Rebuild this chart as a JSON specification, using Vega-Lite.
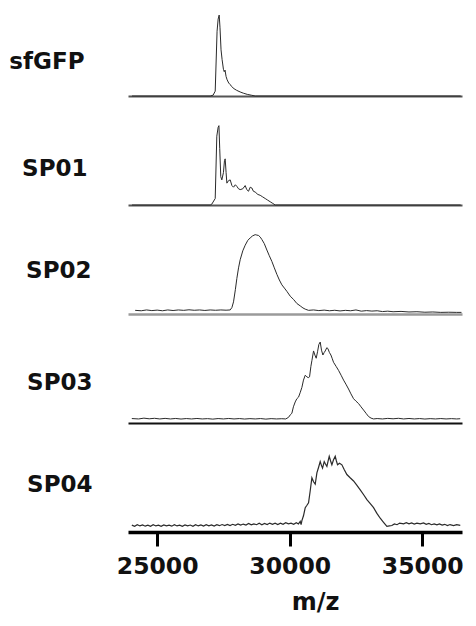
{
"$schema": "https://vega.github.io/schema/vega-lite/v6.json",
"padding": {"left": 8, "top": 11, "right": 12, "bottom": 5},
"bounds": "flush",
"spacing": 24,
"config": {"view": {"stroke": null}, "font": "DejaVu Sans", "line": {"color": "#2a2a2a", "strokeWidth": 1}},
"data": {"values": [
{"s":"sfGFP","mz":24050,"v":0},{"s":"sfGFP","mz":27000,"v":0},{"s":"sfGFP","mz":27110,"v":0.01},{"s":"sfGFP","mz":27190,"v":0.06},{"s":"sfGFP","mz":27260,"v":0.8},{"s":"sfGFP","mz":27300,"v":0.95},{"s":"sfGFP","mz":27340,"v":1.0},{"s":"sfGFP","mz":27370,"v":0.85},{"s":"sfGFP","mz":27410,"v":0.57},{"s":"sfGFP","mz":27450,"v":0.45},{"s":"sfGFP","mz":27500,"v":0.33},{"s":"sfGFP","mz":27530,"v":0.3},{"s":"sfGFP","mz":27560,"v":0.32},{"s":"sfGFP","mz":27600,"v":0.24},{"s":"sfGFP","mz":27640,"v":0.2},{"s":"sfGFP","mz":27700,"v":0.16},{"s":"sfGFP","mz":27760,"v":0.14},{"s":"sfGFP","mz":27800,"v":0.12},{"s":"sfGFP","mz":27900,"v":0.09},{"s":"sfGFP","mz":28000,"v":0.07},{"s":"sfGFP","mz":28130,"v":0.05},{"s":"sfGFP","mz":28250,"v":0.035},{"s":"sfGFP","mz":28400,"v":0.02},{"s":"sfGFP","mz":28550,"v":0.01},{"s":"sfGFP","mz":28700,"v":0},{"s":"sfGFP","mz":36450,"v":0},
{"s":"SP01","mz":24050,"v":0},{"s":"SP01","mz":27000,"v":0},{"s":"SP01","mz":27060,"v":0.01},{"s":"SP01","mz":27190,"v":0.08},{"s":"SP01","mz":27250,"v":0.85},{"s":"SP01","mz":27300,"v":0.96},{"s":"SP01","mz":27330,"v":0.98},{"s":"SP01","mz":27360,"v":0.7},{"s":"SP01","mz":27400,"v":0.35},{"s":"SP01","mz":27440,"v":0.31},{"s":"SP01","mz":27500,"v":0.4},{"s":"SP01","mz":27540,"v":0.55},{"s":"SP01","mz":27566,"v":0.57},{"s":"SP01","mz":27600,"v":0.4},{"s":"SP01","mz":27630,"v":0.27},{"s":"SP01","mz":27690,"v":0.3},{"s":"SP01","mz":27755,"v":0.31},{"s":"SP01","mz":27820,"v":0.24},{"s":"SP01","mz":27881,"v":0.22},{"s":"SP01","mz":27950,"v":0.25},{"s":"SP01","mz":28007,"v":0.23},{"s":"SP01","mz":28070,"v":0.2},{"s":"SP01","mz":28132,"v":0.19},{"s":"SP01","mz":28230,"v":0.2},{"s":"SP01","mz":28321,"v":0.24},{"s":"SP01","mz":28380,"v":0.19},{"s":"SP01","mz":28447,"v":0.17},{"s":"SP01","mz":28510,"v":0.22},{"s":"SP01","mz":28573,"v":0.21},{"s":"SP01","mz":28630,"v":0.17},{"s":"SP01","mz":28698,"v":0.16},{"s":"SP01","mz":28800,"v":0.13},{"s":"SP01","mz":28887,"v":0.12},{"s":"SP01","mz":28980,"v":0.1},{"s":"SP01","mz":29076,"v":0.08},{"s":"SP01","mz":29170,"v":0.06},{"s":"SP01","mz":29264,"v":0.04},{"s":"SP01","mz":29360,"v":0.02},{"s":"SP01","mz":29453,"v":0},{"s":"SP01","mz":36450,"v":0},
{"s":"SP02","mz":24170,"v":0.045},{"s":"SP02","mz":24400,"v":0.04},{"s":"SP02","mz":24600,"v":0.05},{"s":"SP02","mz":24800,"v":0.042},{"s":"SP02","mz":25000,"v":0.048},{"s":"SP02","mz":25200,"v":0.04},{"s":"SP02","mz":25400,"v":0.05},{"s":"SP02","mz":25600,"v":0.043},{"s":"SP02","mz":25800,"v":0.05},{"s":"SP02","mz":26000,"v":0.045},{"s":"SP02","mz":26200,"v":0.052},{"s":"SP02","mz":26400,"v":0.046},{"s":"SP02","mz":26600,"v":0.05},{"s":"SP02","mz":26800,"v":0.044},{"s":"SP02","mz":27000,"v":0.05},{"s":"SP02","mz":27200,"v":0.046},{"s":"SP02","mz":27400,"v":0.05},{"s":"SP02","mz":27600,"v":0.047},{"s":"SP02","mz":27755,"v":0.05},{"s":"SP02","mz":27820,"v":0.08},{"s":"SP02","mz":27881,"v":0.15},{"s":"SP02","mz":27950,"v":0.3},{"s":"SP02","mz":28007,"v":0.44},{"s":"SP02","mz":28070,"v":0.57},{"s":"SP02","mz":28132,"v":0.67},{"s":"SP02","mz":28230,"v":0.78},{"s":"SP02","mz":28321,"v":0.85},{"s":"SP02","mz":28420,"v":0.91},{"s":"SP02","mz":28510,"v":0.94},{"s":"SP02","mz":28600,"v":0.965},{"s":"SP02","mz":28698,"v":0.98},{"s":"SP02","mz":28760,"v":0.975},{"s":"SP02","mz":28824,"v":0.97},{"s":"SP02","mz":28890,"v":0.95},{"s":"SP02","mz":28950,"v":0.92},{"s":"SP02","mz":29040,"v":0.87},{"s":"SP02","mz":29139,"v":0.79},{"s":"SP02","mz":29230,"v":0.72},{"s":"SP02","mz":29327,"v":0.65},{"s":"SP02","mz":29420,"v":0.57},{"s":"SP02","mz":29516,"v":0.49},{"s":"SP02","mz":29610,"v":0.42},{"s":"SP02","mz":29705,"v":0.36},{"s":"SP02","mz":29800,"v":0.32},{"s":"SP02","mz":29893,"v":0.28},{"s":"SP02","mz":30020,"v":0.22},{"s":"SP02","mz":30145,"v":0.18},{"s":"SP02","mz":30270,"v":0.13},{"s":"SP02","mz":30397,"v":0.1},{"s":"SP02","mz":30500,"v":0.075},{"s":"SP02","mz":30586,"v":0.06},{"s":"SP02","mz":30711,"v":0.045},{"s":"SP02","mz":30900,"v":0.05},{"s":"SP02","mz":31100,"v":0.042},{"s":"SP02","mz":31300,"v":0.048},{"s":"SP02","mz":31500,"v":0.04},{"s":"SP02","mz":31700,"v":0.046},{"s":"SP02","mz":31900,"v":0.038},{"s":"SP02","mz":32100,"v":0.045},{"s":"SP02","mz":32300,"v":0.04},{"s":"SP02","mz":32500,"v":0.05},{"s":"SP02","mz":32700,"v":0.035},{"s":"SP02","mz":32900,"v":0.042},{"s":"SP02","mz":33100,"v":0.036},{"s":"SP02","mz":33300,"v":0.04},{"s":"SP02","mz":33500,"v":0.03},{"s":"SP02","mz":33700,"v":0.035},{"s":"SP02","mz":33900,"v":0.028},{"s":"SP02","mz":34200,"v":0.032},{"s":"SP02","mz":34500,"v":0.025},{"s":"SP02","mz":34800,"v":0.028},{"s":"SP02","mz":35100,"v":0.022},{"s":"SP02","mz":35400,"v":0.025},{"s":"SP02","mz":35700,"v":0.02},{"s":"SP02","mz":36000,"v":0.022},{"s":"SP02","mz":36300,"v":0.02},{"s":"SP02","mz":36480,"v":0.02},
{"s":"SP03","mz":24044,"v":0.055},{"s":"SP03","mz":24300,"v":0.05},{"s":"SP03","mz":24500,"v":0.06},{"s":"SP03","mz":24700,"v":0.052},{"s":"SP03","mz":24900,"v":0.058},{"s":"SP03","mz":25100,"v":0.05},{"s":"SP03","mz":25300,"v":0.057},{"s":"SP03","mz":25500,"v":0.05},{"s":"SP03","mz":25700,"v":0.056},{"s":"SP03","mz":25900,"v":0.049},{"s":"SP03","mz":26100,"v":0.055},{"s":"SP03","mz":26300,"v":0.05},{"s":"SP03","mz":26500,"v":0.056},{"s":"SP03","mz":26700,"v":0.05},{"s":"SP03","mz":26900,"v":0.054},{"s":"SP03","mz":27100,"v":0.048},{"s":"SP03","mz":27300,"v":0.055},{"s":"SP03","mz":27500,"v":0.05},{"s":"SP03","mz":27700,"v":0.056},{"s":"SP03","mz":27900,"v":0.05},{"s":"SP03","mz":28100,"v":0.055},{"s":"SP03","mz":28300,"v":0.049},{"s":"SP03","mz":28500,"v":0.054},{"s":"SP03","mz":28700,"v":0.05},{"s":"SP03","mz":28900,"v":0.055},{"s":"SP03","mz":29100,"v":0.048},{"s":"SP03","mz":29300,"v":0.054},{"s":"SP03","mz":29500,"v":0.05},{"s":"SP03","mz":29700,"v":0.053},{"s":"SP03","mz":29850,"v":0.05},{"s":"SP03","mz":29956,"v":0.07},{"s":"SP03","mz":30020,"v":0.1},{"s":"SP03","mz":30082,"v":0.12},{"s":"SP03","mz":30140,"v":0.2},{"s":"SP03","mz":30208,"v":0.26},{"s":"SP03","mz":30270,"v":0.3},{"s":"SP03","mz":30334,"v":0.32},{"s":"SP03","mz":30400,"v":0.38},{"s":"SP03","mz":30460,"v":0.44},{"s":"SP03","mz":30520,"v":0.53},{"s":"SP03","mz":30586,"v":0.59},{"s":"SP03","mz":30649,"v":0.57},{"s":"SP03","mz":30700,"v":0.56},{"s":"SP03","mz":30749,"v":0.57},{"s":"SP03","mz":30800,"v":0.7},{"s":"SP03","mz":30837,"v":0.77},{"s":"SP03","mz":30900,"v":0.89},{"s":"SP03","mz":30950,"v":0.84},{"s":"SP03","mz":31000,"v":0.8},{"s":"SP03","mz":31050,"v":0.88},{"s":"SP03","mz":31100,"v":0.97},{"s":"SP03","mz":31151,"v":1.0},{"s":"SP03","mz":31200,"v":0.9},{"s":"SP03","mz":31252,"v":0.84},{"s":"SP03","mz":31300,"v":0.87},{"s":"SP03","mz":31340,"v":0.89},{"s":"SP03","mz":31400,"v":0.93},{"s":"SP03","mz":31440,"v":0.92},{"s":"SP03","mz":31500,"v":0.87},{"s":"SP03","mz":31554,"v":0.84},{"s":"SP03","mz":31600,"v":0.8},{"s":"SP03","mz":31654,"v":0.75},{"s":"SP03","mz":31750,"v":0.7},{"s":"SP03","mz":31843,"v":0.65},{"s":"SP03","mz":31940,"v":0.59},{"s":"SP03","mz":32032,"v":0.53},{"s":"SP03","mz":32120,"v":0.48},{"s":"SP03","mz":32220,"v":0.42},{"s":"SP03","mz":32310,"v":0.36},{"s":"SP03","mz":32409,"v":0.3},{"s":"SP03","mz":32500,"v":0.27},{"s":"SP03","mz":32598,"v":0.24},{"s":"SP03","mz":32690,"v":0.2},{"s":"SP03","mz":32787,"v":0.16},{"s":"SP03","mz":32880,"v":0.12},{"s":"SP03","mz":32975,"v":0.08},{"s":"SP03","mz":33070,"v":0.06},{"s":"SP03","mz":33164,"v":0.05},{"s":"SP03","mz":33300,"v":0.055},{"s":"SP03","mz":33500,"v":0.05},{"s":"SP03","mz":33700,"v":0.057},{"s":"SP03","mz":33900,"v":0.052},{"s":"SP03","mz":34100,"v":0.058},{"s":"SP03","mz":34300,"v":0.05},{"s":"SP03","mz":34500,"v":0.056},{"s":"SP03","mz":34700,"v":0.05},{"s":"SP03","mz":34900,"v":0.055},{"s":"SP03","mz":35100,"v":0.049},{"s":"SP03","mz":35300,"v":0.054},{"s":"SP03","mz":35500,"v":0.05},{"s":"SP03","mz":35700,"v":0.055},{"s":"SP03","mz":35900,"v":0.05},{"s":"SP03","mz":36100,"v":0.054},{"s":"SP03","mz":36300,"v":0.05},{"s":"SP03","mz":36435,"v":0.053},
{"s":"SP04","mz":24044,"v":0.085},{"s":"SP04","mz":24150,"v":0.07},{"s":"SP04","mz":24250,"v":0.09},{"s":"SP04","mz":24350,"v":0.075},{"s":"SP04","mz":24450,"v":0.088},{"s":"SP04","mz":24550,"v":0.072},{"s":"SP04","mz":24650,"v":0.085},{"s":"SP04","mz":24750,"v":0.07},{"s":"SP04","mz":24850,"v":0.09},{"s":"SP04","mz":24950,"v":0.075},{"s":"SP04","mz":25050,"v":0.085},{"s":"SP04","mz":25150,"v":0.07},{"s":"SP04","mz":25250,"v":0.088},{"s":"SP04","mz":25350,"v":0.075},{"s":"SP04","mz":25450,"v":0.085},{"s":"SP04","mz":25550,"v":0.072},{"s":"SP04","mz":25650,"v":0.09},{"s":"SP04","mz":25750,"v":0.075},{"s":"SP04","mz":25850,"v":0.085},{"s":"SP04","mz":25950,"v":0.07},{"s":"SP04","mz":26050,"v":0.088},{"s":"SP04","mz":26150,"v":0.076},{"s":"SP04","mz":26250,"v":0.086},{"s":"SP04","mz":26350,"v":0.07},{"s":"SP04","mz":26450,"v":0.09},{"s":"SP04","mz":26550,"v":0.075},{"s":"SP04","mz":26650,"v":0.087},{"s":"SP04","mz":26750,"v":0.074},{"s":"SP04","mz":26850,"v":0.09},{"s":"SP04","mz":26950,"v":0.076},{"s":"SP04","mz":27050,"v":0.088},{"s":"SP04","mz":27150,"v":0.074},{"s":"SP04","mz":27250,"v":0.09},{"s":"SP04","mz":27350,"v":0.078},{"s":"SP04","mz":27450,"v":0.092},{"s":"SP04","mz":27550,"v":0.08},{"s":"SP04","mz":27650,"v":0.094},{"s":"SP04","mz":27750,"v":0.08},{"s":"SP04","mz":27850,"v":0.095},{"s":"SP04","mz":27950,"v":0.082},{"s":"SP04","mz":28050,"v":0.1},{"s":"SP04","mz":28150,"v":0.085},{"s":"SP04","mz":28250,"v":0.098},{"s":"SP04","mz":28350,"v":0.086},{"s":"SP04","mz":28450,"v":0.105},{"s":"SP04","mz":28550,"v":0.088},{"s":"SP04","mz":28650,"v":0.1},{"s":"SP04","mz":28750,"v":0.09},{"s":"SP04","mz":28850,"v":0.108},{"s":"SP04","mz":28950,"v":0.09},{"s":"SP04","mz":29050,"v":0.105},{"s":"SP04","mz":29150,"v":0.092},{"s":"SP04","mz":29250,"v":0.11},{"s":"SP04","mz":29350,"v":0.094},{"s":"SP04","mz":29450,"v":0.108},{"s":"SP04","mz":29550,"v":0.093},{"s":"SP04","mz":29650,"v":0.11},{"s":"SP04","mz":29750,"v":0.095},{"s":"SP04","mz":29850,"v":0.115},{"s":"SP04","mz":29950,"v":0.1},{"s":"SP04","mz":30050,"v":0.11},{"s":"SP04","mz":30150,"v":0.095},{"s":"SP04","mz":30250,"v":0.115},{"s":"SP04","mz":30330,"v":0.1},{"s":"SP04","mz":30397,"v":0.13},{"s":"SP04","mz":30430,"v":0.09},{"s":"SP04","mz":30460,"v":0.14},{"s":"SP04","mz":30520,"v":0.2},{"s":"SP04","mz":30586,"v":0.3},{"s":"SP04","mz":30650,"v":0.33},{"s":"SP04","mz":30711,"v":0.36},{"s":"SP04","mz":30770,"v":0.5},{"s":"SP04","mz":30837,"v":0.67},{"s":"SP04","mz":30900,"v":0.62},{"s":"SP04","mz":30963,"v":0.59},{"s":"SP04","mz":31026,"v":0.73},{"s":"SP04","mz":31090,"v":0.8},{"s":"SP04","mz":31151,"v":0.87},{"s":"SP04","mz":31200,"v":0.82},{"s":"SP04","mz":31239,"v":0.79},{"s":"SP04","mz":31302,"v":0.87},{"s":"SP04","mz":31350,"v":0.84},{"s":"SP04","mz":31403,"v":0.81},{"s":"SP04","mz":31450,"v":0.88},{"s":"SP04","mz":31491,"v":0.935},{"s":"SP04","mz":31540,"v":0.88},{"s":"SP04","mz":31591,"v":0.83},{"s":"SP04","mz":31650,"v":0.89},{"s":"SP04","mz":31717,"v":0.935},{"s":"SP04","mz":31760,"v":0.88},{"s":"SP04","mz":31805,"v":0.83},{"s":"SP04","mz":31880,"v":0.85},{"s":"SP04","mz":31969,"v":0.83},{"s":"SP04","mz":32060,"v":0.77},{"s":"SP04","mz":32157,"v":0.71},{"s":"SP04","mz":32280,"v":0.67},{"s":"SP04","mz":32409,"v":0.63},{"s":"SP04","mz":32530,"v":0.58},{"s":"SP04","mz":32661,"v":0.52},{"s":"SP04","mz":32790,"v":0.46},{"s":"SP04","mz":32912,"v":0.4},{"s":"SP04","mz":33040,"v":0.35},{"s":"SP04","mz":33164,"v":0.3},{"s":"SP04","mz":33290,"v":0.23},{"s":"SP04","mz":33415,"v":0.17},{"s":"SP04","mz":33540,"v":0.12},{"s":"SP04","mz":33667,"v":0.07},{"s":"SP04","mz":33760,"v":0.075},{"s":"SP04","mz":33855,"v":0.08},{"s":"SP04","mz":33950,"v":0.1},{"s":"SP04","mz":34050,"v":0.09},{"s":"SP04","mz":34150,"v":0.11},{"s":"SP04","mz":34296,"v":0.1},{"s":"SP04","mz":34400,"v":0.115},{"s":"SP04","mz":34500,"v":0.1},{"s":"SP04","mz":34600,"v":0.112},{"s":"SP04","mz":34700,"v":0.098},{"s":"SP04","mz":34800,"v":0.11},{"s":"SP04","mz":34925,"v":0.1},{"s":"SP04","mz":35050,"v":0.112},{"s":"SP04","mz":35150,"v":0.095},{"s":"SP04","mz":35250,"v":0.105},{"s":"SP04","mz":35350,"v":0.09},{"s":"SP04","mz":35450,"v":0.1},{"s":"SP04","mz":35554,"v":0.088},{"s":"SP04","mz":35650,"v":0.1},{"s":"SP04","mz":35750,"v":0.085},{"s":"SP04","mz":35850,"v":0.095},{"s":"SP04","mz":35950,"v":0.08},{"s":"SP04","mz":36050,"v":0.092},{"s":"SP04","mz":36183,"v":0.08},{"s":"SP04","mz":36300,"v":0.09},{"s":"SP04","mz":36435,"v":0.082}
]},
"vconcat": [
{"width": 334, "height": 85, "transform": [{"filter": "datum.s === 'sfGFP'"}], "mark": {"type": "line"},
 "encoding": {
  "x": {"field": "mz", "type": "quantitative", "scale": {"domain": [23900, 36500], "nice": false, "zero": false}, "axis": {"title": null, "labels": false, "ticks": false, "grid": false, "domainColor": "#555", "domainWidth": 2}},
  "y": {"field": "v", "type": "quantitative", "scale": {"domain": [0, 1.05]}, "axis": {"title": "sfGFP", "domain": false, "ticks": false, "labels": false, "grid": false, "titleAngle": 0, "titleAlign": "right", "titleBaseline": "middle", "titleX": -44, "titleY": 50, "titleFont": "DejaVu Sans", "titleFontSize": 23, "titleFontWeight": "bold", "titleColor": "#111"}}}},
{"width": 334, "height": 85, "transform": [{"filter": "datum.s === 'SP01'"}], "mark": {"type": "line"},
 "encoding": {
  "x": {"field": "mz", "type": "quantitative", "scale": {"domain": [23900, 36500], "nice": false, "zero": false}, "axis": {"title": null, "labels": false, "ticks": false, "grid": false, "domainColor": "#555", "domainWidth": 2}},
  "y": {"field": "v", "type": "quantitative", "scale": {"domain": [0, 1.05]}, "axis": {"title": "SP01", "domain": false, "ticks": false, "labels": false, "grid": false, "titleAngle": 0, "titleAlign": "right", "titleBaseline": "middle", "titleX": -41, "titleY": 48, "titleFont": "DejaVu Sans", "titleFontSize": 23, "titleFontWeight": "bold", "titleColor": "#111"}}}},
{"width": 334, "height": 85, "transform": [{"filter": "datum.s === 'SP02'"}], "mark": {"type": "line"},
 "encoding": {
  "x": {"field": "mz", "type": "quantitative", "scale": {"domain": [23900, 36500], "nice": false, "zero": false}, "axis": {"title": null, "labels": false, "ticks": false, "grid": false, "domainColor": "#9a9a9a", "domainWidth": 2.5}},
  "y": {"field": "v", "type": "quantitative", "scale": {"domain": [0, 1.05]}, "axis": {"title": "SP02", "domain": false, "ticks": false, "labels": false, "grid": false, "titleAngle": 0, "titleAlign": "right", "titleBaseline": "middle", "titleX": -37, "titleY": 41, "titleFont": "DejaVu Sans", "titleFontSize": 23, "titleFontWeight": "bold", "titleColor": "#111"}}}},
{"width": 334, "height": 85, "transform": [{"filter": "datum.s === 'SP03'"}], "mark": {"type": "line"},
 "encoding": {
  "x": {"field": "mz", "type": "quantitative", "scale": {"domain": [23900, 36500], "nice": false, "zero": false}, "axis": {"title": null, "labels": false, "ticks": false, "grid": false, "domainColor": "#111", "domainWidth": 2}},
  "y": {"field": "v", "type": "quantitative", "scale": {"domain": [0, 1.05]}, "axis": {"title": "SP03", "domain": false, "ticks": false, "labels": false, "grid": false, "titleAngle": 0, "titleAlign": "right", "titleBaseline": "middle", "titleX": -36, "titleY": 44, "titleFont": "DejaVu Sans", "titleFontSize": 23, "titleFontWeight": "bold", "titleColor": "#111"}}}},
{"width": 334, "height": 85, "transform": [{"filter": "datum.s === 'SP04'"}], "mark": {"type": "line", "strokeWidth": 1.2},
 "encoding": {
  "x": {"field": "mz", "type": "quantitative", "scale": {"domain": [23900, 36500], "nice": false, "zero": false}, "axis": {"title": "m/z", "values": [25000, 30000, 35000], "format": "d", "grid": false, "domainColor": "#000", "domainWidth": 3.5, "ticks": true, "tickSize": 14, "tickWidth": 3, "tickColor": "#000", "labelFont": "DejaVu Sans", "labelFontSize": 23.5, "labelFontWeight": "bold", "labelColor": "#111", "labelPadding": 8, "titleFont": "DejaVu Sans", "titleFontSize": 24, "titleFontWeight": "bold", "titleColor": "#111", "titlePadding": 13, "titleX": 187}},
  "y": {"field": "v", "type": "quantitative", "scale": {"domain": [0, 1.05]}, "axis": {"title": "SP04", "domain": false, "ticks": false, "labels": false, "grid": false, "titleAngle": 0, "titleAlign": "right", "titleBaseline": "middle", "titleX": -36, "titleY": 37, "titleFont": "DejaVu Sans", "titleFontSize": 23, "titleFontWeight": "bold", "titleColor": "#111"}}}}
]
}
